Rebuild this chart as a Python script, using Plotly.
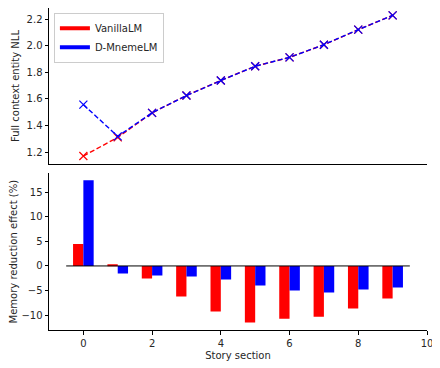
import plotly.graph_objects as go
from plotly.subplots import make_subplots

# story sections
sections = [0, 1, 2, 3, 4, 5, 6, 7, 8, 9]

# full context entity NLL
nll_vanilla = [1.17, 1.31, 1.495, 1.625, 1.738, 1.845, 1.912, 2.007, 2.12, 2.228]
nll_mneme = [1.557, 1.318, 1.495, 1.625, 1.738, 1.845, 1.912, 2.007, 2.12, 2.228]

# memory reduction effect (%)
mre_vanilla = [4.46, 0.2, -2.57, -6.2, -9.26, -11.5, -10.7, -10.3, -8.65, -6.6]
mre_mneme = [17.4, -1.55, -1.96, -2.16, -2.77, -3.99, -5.0, -5.4, -4.8, -4.4]

names = ["VanillaLM", "D-MnemeLM"]
colors = ["#ff0000", "#0000ff"]

FONT = "DejaVu Sans"
TXT = "#262626"

fig = make_subplots(rows=2, cols=1, vertical_spacing=0.03)

# top: NLL lines (dashed with x markers)
for vals, name, col in zip([nll_vanilla, nll_mneme], names, colors):
    fig.add_trace(go.Scatter(
        x=sections, y=vals, mode="lines+markers", name=name, showlegend=False,
        line=dict(color=col, width=1.4, dash="5px,2.5px"),
        marker=dict(symbol="x-thin", size=8, line=dict(color=col, width=1.2)),
    ), row=1, col=1)

# legend handles: thick solid lines
for name, col in zip(names, colors):
    fig.add_trace(go.Scatter(
        x=[None], y=[None], mode="lines", name=name,
        line=dict(color=col, width=4),
    ), row=1, col=1)

# bottom: bars
offsets = [-0.15, 0.15]
for vals, name, col, off in zip([mre_vanilla, mre_mneme], names, colors, offsets):
    fig.add_trace(go.Bar(
        x=[s + off for s in sections], y=vals, width=0.3, name=name,
        marker=dict(color=col, line=dict(width=0)), showlegend=False,
    ), row=2, col=1)

# zero line
fig.add_shape(type="line", x0=-0.5, x1=9.5, y0=0, y1=0, xref="x2", yref="y2",
              line=dict(color="black", width=1))

axis_common = dict(showline=True, linecolor="black", linewidth=1, mirror=False,
                   showgrid=False, zeroline=False, ticks="outside", ticklen=3.5,
                   tickwidth=1, tickcolor="black",
                   tickfont=dict(family=FONT, size=10, color=TXT))

fig.update_xaxes(**axis_common, range=[-1, 10], dtick=2, tick0=0)
fig.update_xaxes(showticklabels=False, ticks="", row=1, col=1)
fig.update_xaxes(title=dict(text="Story section", font=dict(family=FONT, size=10, color=TXT), standoff=4),
                 row=2, col=1)

fig.update_yaxes(**axis_common)
fig.update_yaxes(range=[1.11, 2.283], tickvals=[1.2, 1.4, 1.6, 1.8, 2.0, 2.2], tickformat=".1f",
                 title=dict(text="Full context entity NLL", font=dict(family=FONT, size=10, color=TXT),
                            standoff=5),
                 row=1, col=1)
fig.update_yaxes(range=[-13.0, 18.8], tickvals=[-10, -5, 0, 5, 10, 15],
                 title=dict(text="Memory reduction effect (%)", font=dict(family=FONT, size=10, color=TXT),
                            standoff=4),
                 row=2, col=1)

# page body adds an 8px offset, so the figure is a bit smaller than the window
fig.update_layout(
    width=432, height=360,
    margin=dict(l=41, r=13, t=0, b=38),
    plot_bgcolor="white", paper_bgcolor="white",
    font=dict(family=FONT, size=10, color=TXT),
    barmode="overlay",
    legend=dict(x=0.013, y=0.985, xanchor="left", yanchor="top",
                bgcolor="rgba(255,255,255,0.8)", bordercolor="#cccccc", borderwidth=1,
                font=dict(family=FONT, size=10, color=TXT),
                tracegroupgap=0, itemwidth=30),
)
fig.update_layout(yaxis=dict(domain=[0.5155, 1.0]), yaxis2=dict(domain=[0.0, 0.4866]))

fig.write_html("out.html")
